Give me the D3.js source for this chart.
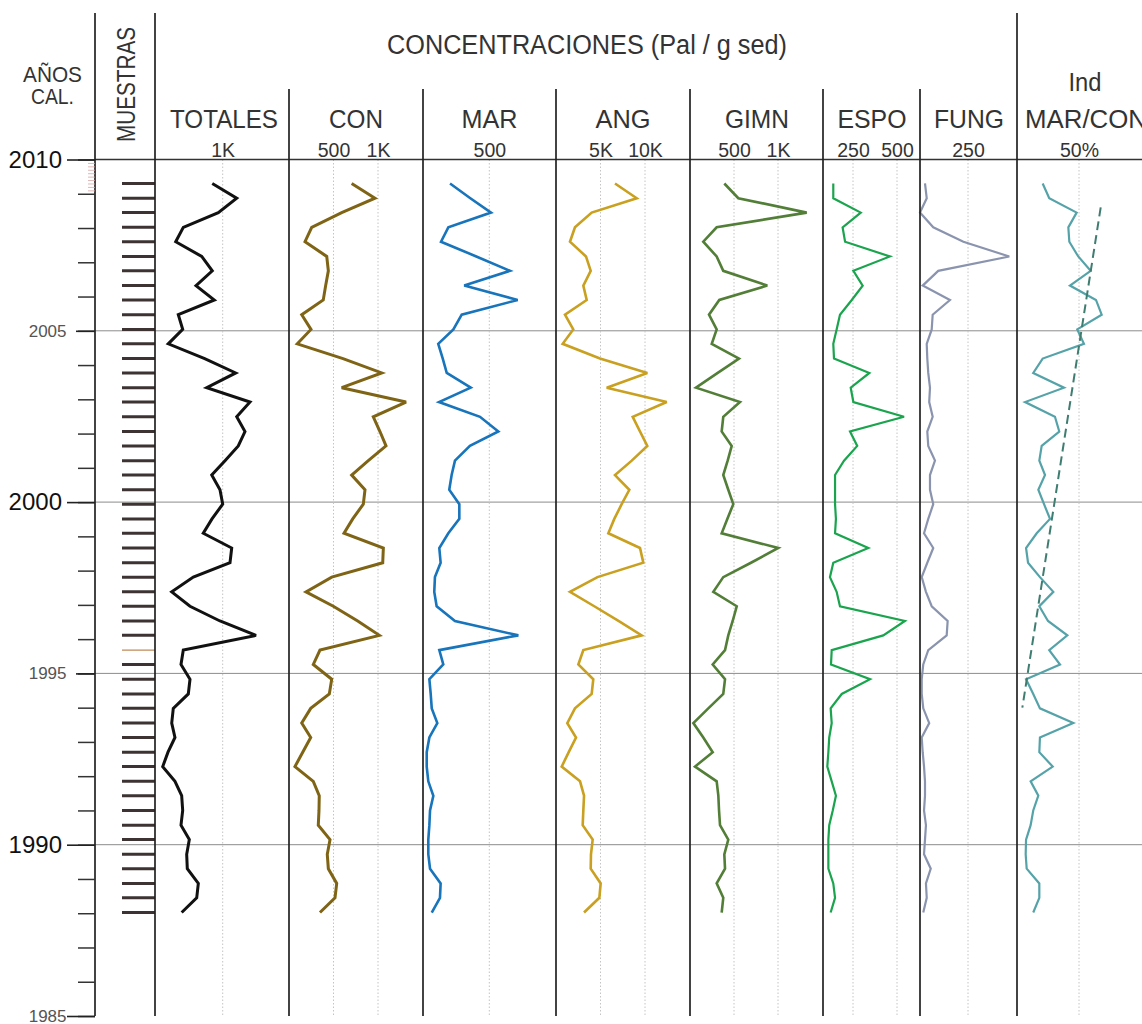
<!DOCTYPE html>
<html>
<head>
<meta charset="utf-8">
<script src="https://cdn.jsdelivr.net/npm/d3@7"></script>
<style>
  body { margin: 0; background: #fff; }
  svg { display: block; }
  text { font-family: "Liberation Sans", Arial, sans-serif; }
</style>
</head>
<body>
<svg id="chart" width="1142" height="1024"></svg>
<script>
// sample ages (cal. years), top to bottom
const sampleYears = [2009.30, 2008.87, 2008.45, 2008.02, 2007.60, 2007.17, 2006.75, 2006.32, 2005.90, 2005.47,
  2005.04, 2004.62, 2004.19, 2003.77, 2003.34, 2002.92, 2002.49, 2002.06, 2001.64, 2001.21,
  2000.79, 2000.36, 1999.94, 1999.51, 1999.09, 1998.66, 1998.23, 1997.81, 1997.38, 1996.96,
  1996.53, 1996.11, 1995.68, 1995.26, 1994.83, 1994.40, 1993.98, 1993.55, 1993.13, 1992.70,
  1992.28, 1991.85, 1991.43, 1991.00, 1990.57, 1990.15, 1989.72, 1989.30, 1988.87, 1988.45, 1988.02];

// concentrations (Pal / g sed)
const totales = [846, 1207, 935, 418, 306, 690, 846, 606, 876, 344, 409, 196, 734, 1192, 764, 1403, 1207, 1329, 1230, 1034,
  838, 960, 1000, 842, 713, 1133, 1108, 566, 247, 517, 960, 1492, 418, 384, 517, 492, 270, 247, 295, 192,
  114, 295, 394, 409, 384, 507, 468, 477, 640, 616, 394];
const con = [704, 966, 592, 255, 180, 424, 442, 412, 385, 143, 247, 93, 607, 1042, 592, 1315, 947, 1022, 1090, 891,
  704, 854, 835, 716, 618, 1060, 1053, 480, 191, 498, 772, 1015, 348, 273, 480, 453, 244, 143, 244, 154,
  67, 273, 340, 337, 329, 461, 430, 442, 536, 517, 348];
const mar = [204, 357, 513, 191, 136, 402, 656, 311, 714, 292, 229, 115, 149, 179, 360, 121, 430, 568, 354, 241,
  216, 198, 274, 274, 191, 123, 133, 90, 85, 103, 241, 719, 123, 153, 48, 58, 66, 108, 48, 28,
  28, 40, 78, 53, 48, 40, 40, 53, 133, 128, 66];
const ang = [6630, 9070, 4010, 2130, 1570, 3370, 3900, 3070, 3450, 1010, 1940, 750, 4940, 10260, 5700, 12440, 8620, 9440, 10260, 8510,
  6630, 8240, 7380, 6550, 5880, 9440, 9810, 4660, 1570, 4300, 7020, 9630, 3070, 2510, 4190, 4010, 2130, 1270, 2250, 1430,
  640, 2700, 3150, 3070, 3000, 4120, 3930, 3900, 5020, 4870, 3150];
const gimn = [390, 549, 1326, 303, 151, 303, 378, 878, 333, 216, 303, 247, 557, 315, 68, 568, 378, 360, 474, 428,
  378, 435, 492, 424, 360, 1003, 693, 378, 265, 531, 485, 435, 398, 258, 398, 378, 208, 38, 151, 258,
  57, 303, 322, 330, 341, 435, 390, 398, 303, 378, 360];
const espo = [138, 138, 294, 191, 205, 460, 252, 305, 243, 176, 157, 138, 142, 343, 237, 252, 540, 233, 274, 199,
  148, 148, 148, 153, 148, 337, 138, 119, 157, 176, 545, 422, 129, 125, 347, 186, 123, 129, 115, 110,
  104, 129, 153, 135, 115, 110, 110, 110, 138, 148, 123];
const fung = [26, 35, 0, 69, 226, 465, 95, 14, 156, 66, 61, 35, 38, 43, 52, 48, 66, 38, 43, 78,
  52, 52, 69, 43, 21, 69, 38, 9, 31, 61, 144, 139, 43, 17, 9, 9, 17, 48, 9, 14,
  21, 26, 26, 21, 31, 26, 21, 56, 31, 35, 17];
// MAR/CON index (%)
const indMarCon = [20.7, 26.0, 48.1, 41.4, 42.2, 49.4, 59.4, 42.7, 63.7, 68.3, 48.6, 54.0, 20.7, 13.1, 37.9, 6.5, 30.6, 34.1, 19.9, 18.0,
  22.6, 17.2, 21.8, 26.6, 15.9, 7.3, 8.9, 18.5, 29.3, 18.0, 25.0, 40.6, 26.0, 34.7, 7.3, 13.1, 18.5, 45.4, 18.5, 18.0,
  28.8, 11.0, 17.2, 13.1, 11.0, 7.3, 7.0, 7.8, 18.0, 18.0, 13.1];
const trendYears = [2008.6, 1994.0];
const trendValues = [67.5, 4.3];

// axis ticks
const majorYears = [2010, 2005, 2000, 1995, 1990, 1985];
const bigYears = [2010, 2000, 1990];
const gridYears = [2005, 2000, 1995, 1990];

const svg = d3.select("#chart");
const W = 1142;
const yTop = 159.5, yBot = 1016;
const y = d3.scaleLinear().domain([2010, 1985]).range([yTop, yBot]);

const panels = [
  { name: "TOTALES", values: totales, ticks: [1000], labels: ["1K"], domain: [0, 1000], range: [155, 222.7], color: "#111111", w: 3 },
  { name: "CON", values: con, ticks: [500, 1000], labels: ["500", "1K"], domain: [0, 1000], range: [289, 378], color: "#7f6416", w: 3 },
  { name: "MAR", values: mar, ticks: [500], labels: ["500"], domain: [0, 500], range: [423, 489.3], color: "#1874bb", w: 2.6 },
  { name: "ANG", values: ang, ticks: [5000, 10000], labels: ["5K", "10K"], domain: [0, 10000], range: [556, 645], color: "#c9a020", w: 2.6 },
  { name: "GIMN", values: gimn, ticks: [500, 1000], labels: ["500", "1K"], domain: [0, 1000], range: [690, 778], color: "#527e37", w: 2.6 },
  { name: "ESPO", values: espo, ticks: [250, 500], labels: ["250", "500"], domain: [0, 500], range: [809, 897], color: "#1aa44e", w: 2.2 },
  { name: "FUNG", values: fung, ticks: [250], labels: ["250"], domain: [0, 250], range: [920, 968], color: "#8a94ae", w: 2.2 },
  { name: "IND", values: indMarCon, ticks: [50], labels: ["50%"], domain: [0, 50], range: [1017, 1079], color: "#55a3a9", w: 2.2 }
];

// year grid lines
svg.append("g").selectAll("line").data(gridYears).join("line")
  .attr("x1", 95).attr("x2", W)
  .attr("y1", d => y(d)).attr("y2", d => y(d))
  .attr("stroke", "#8c8c8c").attr("stroke-width", 1);

// panels: dotted grid, scale labels, curve
panels.forEach(p => {
  const x = d3.scaleLinear().domain(p.domain).range(p.range);
  const g = svg.append("g");

  g.selectAll("line.grid").data(p.ticks).join("line")
    .attr("class", "grid")
    .attr("x1", d => x(d)).attr("x2", d => x(d))
    .attr("y1", yTop).attr("y2", yBot)
    .attr("stroke", "#c4c4c4").attr("stroke-width", 1)
    .attr("stroke-dasharray", "1.5,2");

  const ax = d3.axisTop(x).tickValues(p.ticks)
    .tickFormat((d, i) => p.labels[i]).tickSize(0).tickPadding(2.5);
  g.append("g").attr("transform", `translate(0,${yTop})`).call(ax)
    .call(a => a.select(".domain").remove())
    .call(a => a.selectAll("text").attr("font-size", 19.5).attr("fill", "#333")
      .style("font-family", '"Liberation Sans", Arial, sans-serif'));

  const line = d3.line()
    .x(d => x(d[1]))
    .y(d => y(d[0]));
  g.append("path")
    .datum(sampleYears.map((yr, i) => [yr, p.values[i]]))
    .attr("d", line)
    .attr("fill", "none")
    .attr("stroke", p.color)
    .attr("stroke-width", p.w)
    .attr("stroke-linejoin", "miter")
    .attr("stroke-miterlimit", 3);

  if (p.name === "IND") {
    g.append("path")
      .datum(trendYears.map((yr, i) => [yr, trendValues[i]]))
      .attr("d", line)
      .attr("fill", "none")
      .attr("stroke", "#3e7d70")
      .attr("stroke-width", 2)
      .attr("stroke-dasharray", "9,5");
  }
});

// sample marks (MUESTRAS)
svg.append("g").selectAll("line").data(sampleYears).join("line")
  .attr("x1", 122).attr("x2", 155)
  .attr("y1", d => y(d)).attr("y2", d => y(d))
  .attr("stroke", (d, i) => i === 32 ? "#c08a5a" : "#3d3333")
  .attr("stroke-width", (d, i) => i === 32 ? 1.2 : 3);

// frame lines
svg.append("line").attr("x1", 95).attr("x2", W).attr("y1", yTop).attr("y2", yTop)
  .attr("stroke", "#333").attr("stroke-width", 1.6);
svg.append("g").selectAll("line").data([95, 155, 1017]).join("line")
  .attr("x1", d => d).attr("x2", d => d).attr("y1", 13).attr("y2", yBot)
  .attr("stroke", "#222").attr("stroke-width", 1.7);
svg.append("g").selectAll("line").data([289, 423, 556, 690, 823, 920]).join("line")
  .attr("x1", d => d).attr("x2", d => d).attr("y1", 89).attr("y2", yBot)
  .attr("stroke", "#222").attr("stroke-width", 1.7);

// age axis
svg.append("g").attr("transform", "translate(95,0)")
  .call(d3.axisLeft(y).tickValues(d3.range(1985, 2011)).tickSize(17).tickFormat(""))
  .call(a => a.select(".domain").remove())
  .call(a => a.selectAll(".tick line").attr("stroke", "#333").attr("stroke-width", 1.5));
svg.append("g").attr("transform", "translate(95,0)")
  .call(d3.axisLeft(y).tickValues(d3.range(2009.1, 2009.95, 0.1)).tickSize(7).tickFormat(""))
  .call(a => a.select(".domain").remove())
  .call(a => a.selectAll(".tick line").attr("stroke", "#d7a4a4").attr("stroke-width", 0.8));
svg.append("g").attr("transform", "translate(95,0)")
  .call(d3.axisLeft(y).tickValues(majorYears).tickSize(28).tickFormat(d3.format("d")))
  .call(a => a.select(".domain").remove())
  .call(a => a.selectAll(".tick line")
    .attr("x2", d => (bigYears.includes(d) || d === 1985) ? -28 : -19)
    .attr("stroke", "#222").attr("stroke-width", 1.6))
  .call(a => a.selectAll(".tick text")
    .attr("x", d => bigYears.includes(d) ? -33 : -28.5)
    .attr("font-size", d => bigYears.includes(d) ? 24 : 17)
    .attr("fill", d => bigYears.includes(d) ? "#111" : "#555")
    .style("font-family", '"Liberation Sans", Arial, sans-serif'));

// header texts
function label(x, yy, txt, size, len, anchor, rot) {
  const t = svg.append("text")
    .attr("x", x).attr("y", yy)
    .attr("font-size", size)
    .attr("fill", "#333")
    .attr("text-anchor", anchor || "middle")
    .text(txt);
  if (len) t.attr("textLength", len).attr("lengthAdjust", "spacingAndGlyphs");
  if (rot) t.attr("transform", `rotate(${rot},${x},${yy})`);
  return t;
}
label(52.5, 82, "AÑOS", 22, 59);
label(52.5, 104, "CAL.", 22, 43);
label(135, 84.5, "MUESTRAS", 26, 115, "middle", -90);
label(587, 54, "CONCENTRACIONES (Pal / g sed)", 27, 400);
label(224, 128, "TOTALES", 25, 108);
label(356, 128, "CON", 25, 54);
label(489.5, 128, "MAR", 25, 56);
label(623, 128, "ANG", 25, 55);
label(757, 128, "GIMN", 25, 64);
label(872, 128, "ESPO", 25, 69);
label(969, 128, "FUNG", 25, 70);
label(1085, 91, "Ind", 25, 33);
label(1025, 128, "MAR/CON", 25, 122, "start");
</script>
</body>
</html>
